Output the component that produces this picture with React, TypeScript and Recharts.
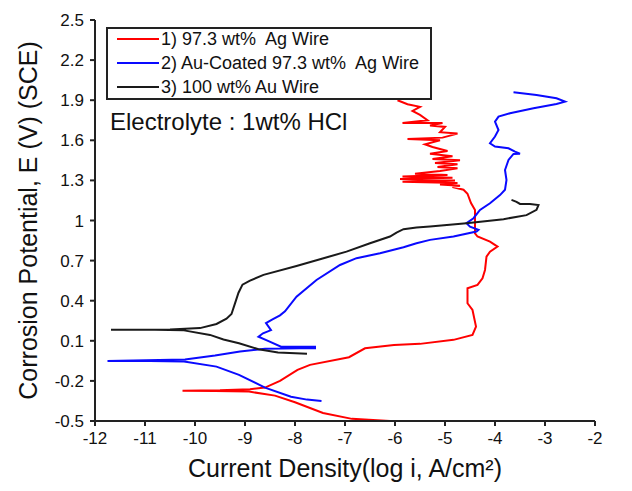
import { LineChart, Line, XAxis, YAxis } from "recharts";

type Pt = [number, number];

// 1) 97.3 wt% Ag wire: [log i, E]
const agWire: Pt[] = [
  [-6.1, -0.5], [-6.86, -0.484], [-7.44, -0.44], [-8.0, -0.36], [-8.4, -0.31],
  [-8.92, -0.28], [-9.6, -0.275], [-10.25, -0.273], [-9.5, -0.27], [-8.9, -0.262],
  [-8.6, -0.25], [-8.3, -0.2], [-7.95, -0.118], [-7.7, -0.08], [-6.92, -0.023],
  [-6.6, 0.044], [-6.02, 0.069], [-5.5, 0.077], [-4.83, 0.107], [-4.45, 0.144],
  [-4.38, 0.206], [-4.45, 0.331], [-4.55, 0.381], [-4.55, 0.493], [-4.35, 0.518],
  [-4.25, 0.568], [-4.2, 0.63], [-4.17, 0.73], [-4.1, 0.767], [-3.95, 0.805],
  [-4.1, 0.842], [-4.35, 0.88], [-4.4, 0.904], [-4.4, 1.079], [-4.48, 1.13],
  [-4.55, 1.2], [-4.63, 1.23], [-4.85, 1.25], [-4.7, 1.26], [-5.1, 1.27],
  [-4.75, 1.28], [-5.85, 1.29], [-4.8, 1.3], [-5.9, 1.31], [-4.85, 1.32],
  [-5.85, 1.33], [-4.95, 1.34], [-5.6, 1.35], [-5.1, 1.37], [-4.75, 1.39],
  [-5.15, 1.4], [-4.75, 1.42], [-5.2, 1.43], [-4.7, 1.45], [-5.25, 1.46],
  [-4.85, 1.48], [-5.3, 1.5], [-4.95, 1.52], [-5.25, 1.55], [-5.4, 1.57],
  [-5.1, 1.6], [-5.75, 1.61], [-5.05, 1.62], [-4.75, 1.65], [-5.1, 1.66],
  [-5.0, 1.7], [-5.3, 1.71], [-5.05, 1.73], [-5.85, 1.73], [-5.35, 1.75],
  [-5.5, 1.79], [-5.65, 1.82], [-5.5, 1.85], [-5.75, 1.87], [-5.95, 1.9],
];

// 2) Au-coated 97.3 wt% Ag wire
const coatedWire: Pt[] = [
  [-7.47, -0.35], [-7.76, -0.34], [-8.08, -0.318], [-8.6, -0.25], [-9.12, -0.155],
  [-9.57, -0.093], [-10.22, -0.055], [-10.9, -0.052], [-11.75, -0.052],
  [-10.2, -0.04], [-9.6, -0.01], [-9.1, 0.02], [-8.6, 0.04], [-7.9, 0.045],
  [-7.6, 0.045], [-7.6, 0.055], [-8.28, 0.056], [-8.54, 0.1], [-8.73, 0.131],
  [-8.64, 0.156], [-8.48, 0.18], [-8.58, 0.233], [-8.45, 0.26], [-8.3, 0.29],
  [-8.2, 0.32], [-7.97, 0.43], [-7.57, 0.555], [-7.1, 0.667], [-6.77, 0.718],
  [-6.3, 0.755], [-5.83, 0.8], [-5.57, 0.83], [-5.3, 0.855], [-4.83, 0.88],
  [-4.37, 0.917], [-4.33, 0.93], [-4.5, 0.954], [-4.57, 0.98], [-4.43, 1.017],
  [-4.3, 1.079], [-4.1, 1.129], [-3.9, 1.19], [-3.8, 1.23], [-3.77, 1.303],
  [-3.8, 1.378], [-3.73, 1.453], [-3.63, 1.498], [-3.5, 1.5], [-3.6, 1.515],
  [-3.73, 1.54], [-4.0, 1.553], [-4.1, 1.578], [-4.0, 1.628], [-3.93, 1.677],
  [-4.0, 1.74], [-3.93, 1.777], [-3.7, 1.802], [-3.23, 1.84], [-2.77, 1.872],
  [-2.6, 1.889], [-2.77, 1.914], [-3.17, 1.939], [-3.63, 1.959],
];

// 3) 100 wt% Au wire
const auWire: Pt[] = [
  [-7.76, 0.003], [-8.34, 0.012], [-8.73, 0.037], [-9.12, 0.082], [-9.43, 0.11],
  [-9.7, 0.144], [-10.22, 0.178], [-10.8, 0.182], [-11.68, 0.182], [-10.5, 0.184],
  [-9.9, 0.195], [-9.57, 0.226], [-9.37, 0.265], [-9.27, 0.3], [-9.2, 0.38],
  [-9.13, 0.46], [-9.05, 0.52], [-8.9, 0.55], [-8.63, 0.593], [-7.97, 0.66],
  [-7.43, 0.718], [-6.97, 0.767], [-6.5, 0.83], [-6.1, 0.88], [-5.97, 0.91],
  [-5.83, 0.935], [-5.57, 0.947], [-5.3, 0.955], [-4.57, 0.98], [-3.83, 1.01],
  [-3.37, 1.04], [-3.17, 1.08], [-3.13, 1.116], [-3.3, 1.124], [-3.5, 1.124],
  [-3.57, 1.14], [-3.67, 1.154],
];

const xTicks = [-12, -11, -10, -9, -8, -7, -6, -5, -4, -3, -2];
const yTicks = [-0.5, -0.2, 0.1, 0.4, 0.7, 1, 1.3, 1.6, 1.9, 2.2, 2.5];

const series = [
  { name: "1) 97.3 wt%  Ag Wire", color: "#ff0000", points: agWire },
  { name: "2) Au-Coated 97.3 wt%  Ag Wire", color: "#0a0aff", points: coatedWire },
  { name: "3) 100 wt% Au Wire", color: "#1a1a1a", points: auWire },
];

const font = "'Liberation Sans', Arial, sans-serif";
const ink = "#222";

const toRows = (pts: Pt[]) => pts.map(([x, y]) => ({ x, y }));

export default function App() {
  return (
    <div style={{ position: "relative", width: 616, height: 483, fontFamily: font }}>
      <LineChart
        width={616}
        height={483}
        margin={{ top: 12, right: 29, left: 0, bottom: 0 }}
        style={{ fontFamily: font }}
      >
        <XAxis
          xAxisId="main"
          dataKey="x"
          type="number"
          domain={[-12, -2]}
          ticks={xTicks}
          allowDataOverflow
          height={70}
          tickSize={5}
          tickMargin={6}
          stroke={ink}
          strokeWidth={2}
          tick={{ fill: "#111", fontSize: 17 }}
          label={{
            value: "Current Density(log i, A/cm²)",
            position: "insideBottom",
            offset: 14,
            fill: "#111",
            fontSize: 25,
          }}
        />
        <XAxis
          xAxisId="top"
          orientation="top"
          dataKey="x"
          type="number"
          domain={[-12, -2]}
          height={0}
          tick={false}
          tickLine={false}
          stroke={ink}
          strokeWidth={2}
        />
        <YAxis
          yAxisId="main"
          dataKey="y"
          type="number"
          domain={[-0.5, 2.5]}
          ticks={yTicks}
          allowDataOverflow
          width={87}
          tickSize={5}
          tickMargin={6}
          stroke={ink}
          strokeWidth={2}
          tick={{ fill: "#111", fontSize: 17 }}
          tickFormatter={(v: number) => String(Number(v.toFixed(1)))}
          label={{
            value: "Corrosion Potential, E (V) (SCE)",
            angle: -90,
            position: "insideLeft",
            offset: 20,
            fill: "#111",
            fontSize: 25,
            style: { textAnchor: "middle" },
          }}
        />
        <YAxis
          yAxisId="right"
          orientation="right"
          dataKey="y"
          type="number"
          domain={[-0.5, 2.5]}
          width={0}
          tick={false}
          tickLine={false}
          stroke={ink}
          strokeWidth={2}
        />
        {series.map((s) => (
          <Line
            key={s.name}
            xAxisId="main"
            yAxisId="main"
            data={toRows(s.points)}
            dataKey="y"
            type="linear"
            stroke={s.color}
            strokeWidth={2}
            dot={false}
            activeDot={false}
            isAnimationActive={false}
          />
        ))}
      </LineChart>

      <div
        style={{
          position: "absolute",
          left: 98,
          top: 19,
          width: 322,
          height: 69,
          border: `2px solid ${ink}`,
          background: "#fff",
          fontSize: 18,
          color: "#111",
        }}
      >
        {series.map((s, i) => (
          <div
            key={s.name}
            style={{
              position: "absolute",
              left: 9,
              top: -1 + i * 24,
              height: 22,
              display: "flex",
              alignItems: "center",
              whiteSpace: "pre",
            }}
          >
            <span style={{ display: "inline-block", width: 42, height: 2, background: s.color, marginRight: 2 }} />
            <span>{s.name}</span>
          </div>
        ))}
      </div>

      <div
        style={{
          position: "absolute",
          left: 102,
          top: 100,
          fontSize: 24,
          color: "#111",
          whiteSpace: "pre",
        }}
      >
        Electrolyte : 1wt% HCl
      </div>
    </div>
  );
}
